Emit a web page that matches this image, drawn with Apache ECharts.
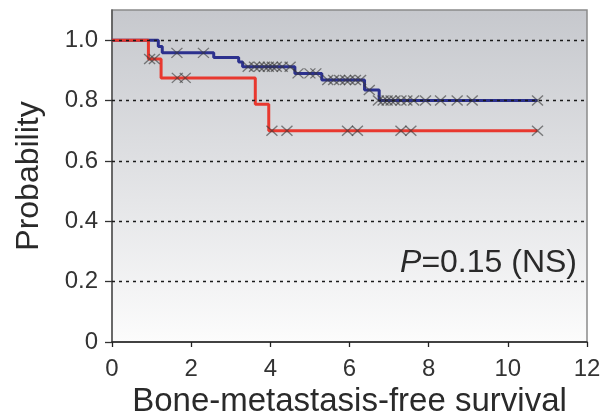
<!DOCTYPE html>
<html>
<head>
<meta charset="utf-8">
<script src="https://cdn.jsdelivr.net/npm/echarts@6/dist/echarts.min.js"></script>
<style>
html,body{margin:0;padding:0;background:#fff}
#chart{width:603px;height:417px}
</style>
</head>
<body>
<div id="chart"></div>
<script>
// step curves: time of event, survival after it
var redTimes = [0, 0.92, 1.24, 3.62, 3.96, 10.75];
var redSurv = [1.0, 0.9375, 0.875, 0.7875, 0.70, 0.70];
var blueTimes = [0, 1.17, 1.27, 2.57, 3.2, 3.3, 4.62, 5.3, 6.38, 6.75, 10.75];
var blueSurv = [1.0, 0.979, 0.958, 0.943, 0.928, 0.912, 0.89, 0.868, 0.835, 0.80, 0.80];

// censored marks
var redCensTimes = [0.95, 1.07, 1.65, 1.85, 4.04, 4.42, 5.95, 6.2, 7.3, 7.55, 10.75];
var redCensSurv = [0.9375, 0.9375, 0.875, 0.875, 0.70, 0.70, 0.70, 0.70, 0.70, 0.70, 0.70];
var blueCensTimes = [1.64, 2.31, 3.44, 3.6, 3.72, 3.85, 3.95, 4.05, 4.15, 4.3, 4.5, 4.7, 5.0, 5.15,
	5.45, 5.6, 5.75, 5.9, 6.0, 6.15, 6.28, 6.5, 6.73, 6.85, 6.95, 7.05, 7.15, 7.3, 7.45, 7.62,
	7.92, 8.3, 8.72, 9.1, 10.75];
var blueCensSurv = [0.958, 0.958, 0.912, 0.912, 0.912, 0.912, 0.912, 0.912, 0.912, 0.912, 0.912, 0.89, 0.89, 0.89,
	0.868, 0.868, 0.868, 0.868, 0.868, 0.868, 0.868, 0.835, 0.80, 0.80, 0.80, 0.80, 0.80, 0.80, 0.80, 0.80,
	0.80, 0.80, 0.80, 0.80, 0.80];

var yTicks = [0, 0.2, 0.4, 0.6, 0.8, 1.0];
var gridLines = [0.2, 0.4, 0.6, 0.8, 1.0];

function pairs(xs, ys) {
	var out = [];
	for (var i = 0; i < xs.length; i++) out.push([xs[i], ys[i]]);
	return out;
}

var cross = 'path://M0,0L10,10M10,0L0,10';
var crossStyle = { color: 'transparent', borderColor: 'rgba(55,55,55,0.75)', borderWidth: 1.3 };

var myChart = echarts.init(document.getElementById('chart'));
var option = {
	animation: false,
	grid: {
		left: 112, right: 16, top: 10, bottom: 75,
		outerBoundsMode: 'none',
		containLabel: false,
		show: true,
		borderColor: '#8a8a8a',
		borderWidth: 1.5,
		backgroundColor: new echarts.graphic.LinearGradient(0, 0, 0, 1, [
			{ offset: 0, color: '#c6c8cd' },
			{ offset: 1, color: '#fcfcfc' }
		])
	},
	xAxis: {
		type: 'value',
		min: 0, max: 12, interval: 2,
		name: 'Bone-metastasis-free survival',
		nameLocation: 'middle',
		nameGap: 43,
		nameTextStyle: { fontFamily: 'Liberation Sans', fontSize: 33, color: '#2a2a2a' },
		axisLine: { onZero: false, lineStyle: { color: '#222', width: 1.5 } },
		axisTick: { length: 5, lineStyle: { color: '#222', width: 1.3 } },
		axisLabel: { margin: 15, fontFamily: 'Liberation Sans', fontSize: 24, color: '#333' },
		splitLine: { show: false }
	},
	yAxis: {
		type: 'value',
		min: 0, max: 1.1,
		name: 'Probability',
		nameLocation: 'middle',
		nameGap: 67,
		nameRotate: 90,
		nameTextStyle: { fontFamily: 'Liberation Sans', fontSize: 32, color: '#2a2a2a' },
		axisLine: { show: true, lineStyle: { color: '#555', width: 1.5 } },
		axisTick: { show: true, length: 7, customValues: yTicks, lineStyle: { color: '#333', width: 1.3 } },
		axisLabel: {
			margin: 14, fontFamily: 'Liberation Sans', fontSize: 24, color: '#333',
			customValues: yTicks,
			formatter: function (v) { return v === 0 ? '0' : v.toFixed(1); }
		},
		splitLine: { show: false }
	},
	series: [
		{
			type: 'line', data: [], silent: true, z: 1,
			markLine: {
				silent: true, symbol: 'none', label: { show: false },
				lineStyle: { color: '#1a1a1a', type: [3, 4], width: 1.3 },
				data: gridLines.map(function (v) { return { yAxis: v }; })
			}
		},
		{
			type: 'line', step: 'end', data: pairs(blueTimes, blueSurv),
			showSymbol: false, z: 3,
			lineStyle: { color: '#2c318e', width: 3 }
		},
		{
			type: 'line', step: 'end', data: pairs(redTimes, redSurv),
			showSymbol: false, z: 4,
			lineStyle: { color: '#e8382f', width: 3 }
		},
		{
			type: 'scatter', data: pairs(blueCensTimes, blueCensSurv), z: 5,
			symbol: cross, symbolSize: [11, 10], itemStyle: crossStyle
		},
		{
			type: 'scatter', data: pairs(redCensTimes, redCensSurv), z: 5,
			symbol: cross, symbolSize: [11, 10], itemStyle: crossStyle
		}
	],
	graphic: [{
		type: 'text',
		x: 577, y: 263,
		z: 10,
		style: {
			text: '{i|P}=0.15 (NS)',
			align: 'right',
			verticalAlign: 'middle',
			fontFamily: 'Liberation Sans',
			fontSize: 32,
			fill: '#2a2a2a',
			rich: { i: { fontStyle: 'italic', fontFamily: 'Liberation Sans', fontSize: 32, color: '#2a2a2a' } }
		}
	}]
};
myChart.setOption(option);
</script>
</body>
</html>
